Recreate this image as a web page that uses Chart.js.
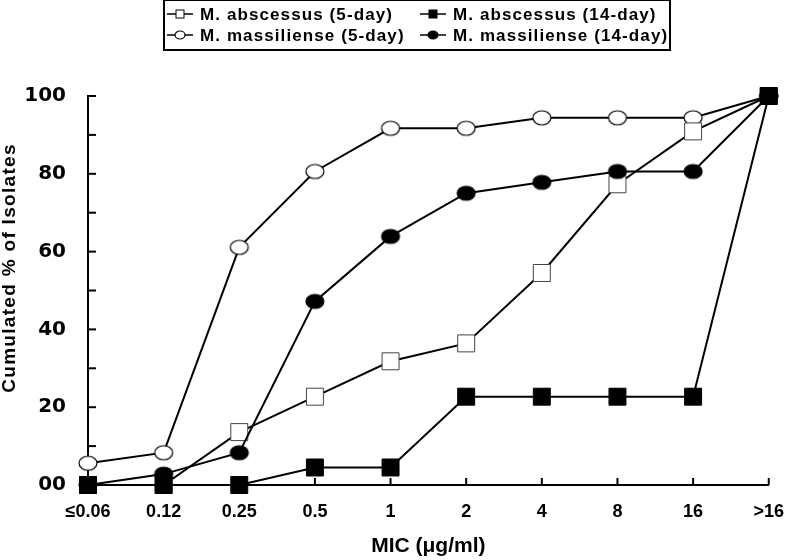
<!DOCTYPE html>
<html>
<head>
<meta charset="utf-8">
<script src="https://cdn.jsdelivr.net/npm/chart.js@4.4.0/dist/chart.umd.min.js"></script>
<style>
  html, body { margin: 0; padding: 0; background: #fff; }
  #wrap { width: 800px; height: 560px; }
</style>
</head>
<body>
<div id="wrap"><canvas id="micChart"></canvas></div>
<script>
// Data
const micLabels = ['≤0.06', '0.12', '0.25', '0.5', '1', '2', '4', '8', '16', '>16'];
const abscessus5 = [0, 0, 13.6, 22.7, 31.8, 36.4, 54.5, 77.3, 90.9, 100];
const abscessus14 = [0, 0, 0, 4.5, 4.5, 22.7, 22.7, 22.7, 22.7, 100];
const massiliense5 = [5.6, 8.3, 61.1, 80.6, 91.7, 91.7, 94.4, 94.4, 94.4, 100];
const massiliense14 = [0, 2.8, 8.3, 47.2, 63.9, 75.0, 77.8, 80.6, 80.6, 100];
const yLabelled = [0, 20, 40, 60, 80, 100];

const FONT = "'Liberation Sans', Arial, sans-serif";

// ellipse markers (the circles in the figure are a bit wider than tall)
function ellipseMarker(w, h, fill) {
    const c = document.createElement('canvas');
    c.width = w + 4; c.height = h + 4;
    const g = c.getContext('2d');
    g.beginPath();
    g.ellipse(c.width / 2, c.height / 2, w / 2, h / 2, 0, 0, Math.PI * 2);
    g.fillStyle = fill;
    g.fill();
    g.lineWidth = 1.2;
    g.strokeStyle = '#000';
    g.stroke();
    return c;
}
const openCircle = ellipseMarker(18, 14, '#fff');
const filledCircle = ellipseMarker(18, 14, '#000');
const openCircleSmall = ellipseMarker(10, 8, '#fff');
const filledCircleSmall = ellipseMarker(10, 8, '#000');

// ticks point inward, legend sits in a box at the top
const figureExtras = {
    id: 'figureExtras',
    beforeDatasetsDraw(chart) {
        const { ctx, chartArea, scales } = chart;
        ctx.save();
        ctx.strokeStyle = '#000';
        ctx.lineWidth = 2;
        scales.y.ticks.forEach(t => {
            const y = scales.y.getPixelForValue(t.value);
            ctx.beginPath();
            ctx.moveTo(chartArea.left, y);
            ctx.lineTo(chartArea.left + 8, y);
            ctx.stroke();
        });
        micLabels.forEach((l, i) => {
            if (i === 0) return;
            const x = scales.x.getPixelForValue(i);
            ctx.beginPath();
            ctx.moveTo(x, chartArea.bottom);
            ctx.lineTo(x, chartArea.bottom - 7);
            ctx.stroke();
        });
        ctx.restore();
    },
    afterDraw(chart) {
        const ctx = chart.ctx;
        ctx.save();

        // y axis title
        ctx.translate(10, 268);
        ctx.rotate(-Math.PI / 2);
        ctx.font = 'bold 19px ' + FONT;
        ctx.letterSpacing = '1.3px';
        ctx.fillStyle = '#000';
        ctx.textAlign = 'center';
        ctx.textBaseline = 'middle';
        ctx.fillText('Cumulated % of Isolates', 0, 0);
        ctx.restore();

        // legend
        ctx.save();
        ctx.strokeStyle = '#000';
        ctx.lineWidth = 2;
        ctx.strokeRect(164, 0, 506, 50);
        const entries = [
            { text: 'M. abscessus (5-day)', cx: 180, cy: 14, kind: 'rect', fill: '#fff' },
            { text: 'M. abscessus (14-day)', cx: 433, cy: 14, kind: 'rect', fill: '#000' },
            { text: 'M. massiliense (5-day)', cx: 180, cy: 35, kind: 'img', img: openCircleSmall },
            { text: 'M. massiliense (14-day)', cx: 433, cy: 35, kind: 'img', img: filledCircleSmall }
        ];
        ctx.font = 'bold 17px ' + FONT;
        ctx.letterSpacing = '1.1px';
        ctx.textBaseline = 'middle';
        entries.forEach(e => {
            ctx.lineWidth = 1.5;
            ctx.beginPath();
            ctx.moveTo(e.cx - 13, e.cy);
            ctx.lineTo(e.cx + 13, e.cy);
            ctx.stroke();
            if (e.kind === 'rect') {
                ctx.fillStyle = e.fill;
                ctx.fillRect(e.cx - 4, e.cy - 4, 8, 8);
                ctx.lineWidth = 1;
                ctx.strokeRect(e.cx - 4, e.cy - 4, 8, 8);
            } else {
                ctx.drawImage(e.img, e.cx - e.img.width / 2, e.cy - e.img.height / 2);
            }
            ctx.fillStyle = '#000';
            ctx.fillText(e.text, e.cx + 20, e.cy + 1);
        });
        ctx.restore();
    }
};

const ctx = document.getElementById('micChart').getContext('2d');
const micChart = new Chart(ctx, {
    type: 'line',
    data: {
        labels: micLabels,
        datasets: [
            {
                label: 'M. abscessus (5-day)',
                data: abscessus5,
                borderColor: '#000',
                borderWidth: 2,
                pointStyle: 'rect',
                pointRadius: 12,
                pointBackgroundColor: '#fff',
                pointBorderColor: '#444',
                pointBorderWidth: 1,
                clip: false,
                order: 2
            },
            {
                label: 'M. abscessus (14-day)',
                data: abscessus14,
                borderColor: '#000',
                borderWidth: 2,
                pointStyle: 'rect',
                pointRadius: 12,
                pointBackgroundColor: '#000',
                pointBorderColor: '#000',
                pointBorderWidth: 1,
                clip: false,
                order: 0
            },
            {
                label: 'M. massiliense (5-day)',
                data: massiliense5,
                borderColor: '#000',
                borderWidth: 2,
                pointStyle: openCircle,
                clip: false,
                order: 3
            },
            {
                label: 'M. massiliense (14-day)',
                data: massiliense14,
                borderColor: '#000',
                borderWidth: 2,
                pointStyle: filledCircle,
                clip: false,
                order: 1
            }
        ]
    },
    options: {
        responsive: true,
        maintainAspectRatio: false,
        animation: false,
        events: [],
        layout: { padding: { top: 96, right: 17, bottom: 0, left: 2 } },
        plugins: {
            legend: { display: false },
            tooltip: { enabled: false }
        },
        elements: { line: { tension: 0, fill: false } },
        scales: {
            x: {
                type: 'category',
                offset: false,
                grid: { display: false, drawTicks: false },
                border: { display: true, color: '#000', width: 2 },
                ticks: {
                    color: '#000',
                    font: { family: FONT, size: 18, weight: 'bold' },
                    padding: 16,
                    maxRotation: 0,
                    autoSkip: false
                },
                title: {
                    display: true,
                    text: 'MIC (μg/ml)',
                    color: '#000',
                    font: { family: FONT, size: 21, weight: 'bold' },
                    padding: { top: 0, bottom: 1 }
                },
                afterFit(scale) { scale.height = 75; }
            },
            y: {
                min: 0,
                max: 100,
                grid: { display: false, drawTicks: false },
                border: { display: true, color: '#000', width: 2 },
                ticks: {
                    stepSize: 10,
                    color: '#000',
                    padding: 22,
                    font: { family: "'DejaVu Sans', sans-serif", size: 20, weight: 'bold' },
                    callback: v => v === 0 ? '00' : (yLabelled.includes(v) ? String(v) : '')
                },
                afterFit(scale) { scale.width = 86; }
            }
        }
    },
    plugins: [figureExtras]
});
</script>
</body>
</html>
